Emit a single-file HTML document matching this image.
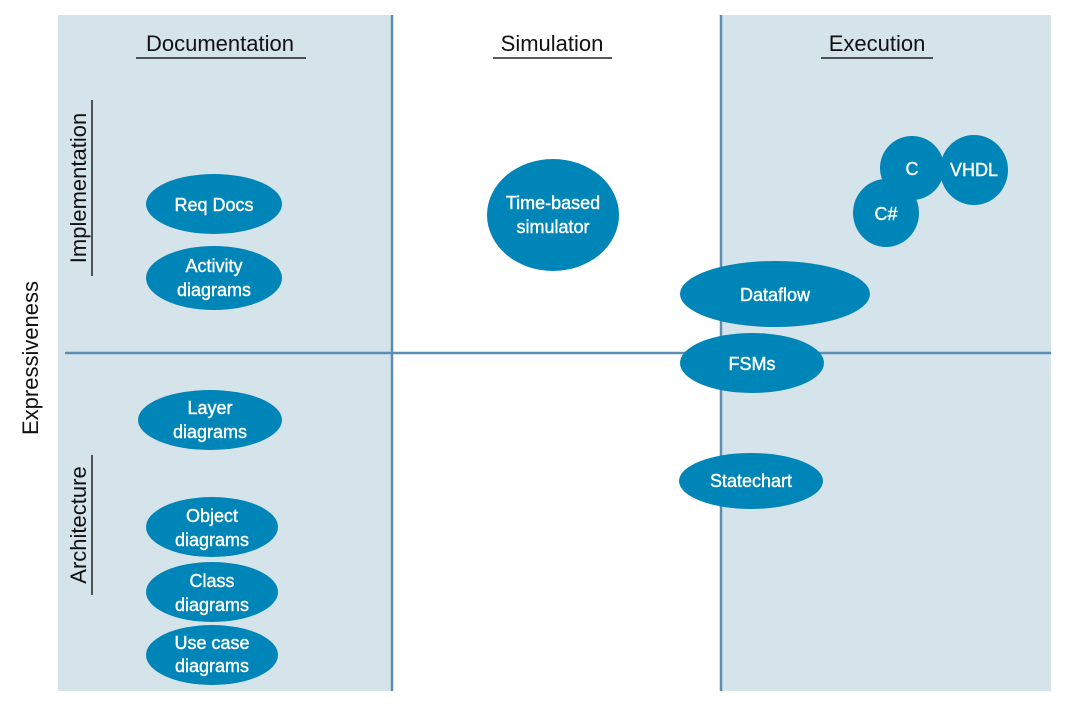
<!DOCTYPE html>
<html><head><style>body{margin:0;background:#fff}</style></head><body>
<svg width="1067" height="708" xmlns="http://www.w3.org/2000/svg" font-family="Liberation Sans, Arial, sans-serif">
<rect x="58" y="15" width="334" height="676" fill="#d5e3ea"/>
<rect x="721" y="15" width="330" height="676" fill="#d5e3ea"/>
<g stroke="#5b8eb2" stroke-width="2.5">
<line x1="392" y1="15" x2="392" y2="691"/>
<line x1="721" y1="15" x2="721" y2="691"/>
<line x1="65" y1="353" x2="1051" y2="353"/>
</g>
<g font-size="22" fill="#111" text-anchor="middle">
<text x="220" y="51">Documentation</text>
<text x="552" y="51">Simulation</text>
<text x="877" y="51">Execution</text>
</g>
<g stroke="#222" stroke-width="1.5">
<line x1="136" y1="58" x2="306" y2="58"/>
<line x1="493" y1="58" x2="612" y2="58"/>
<line x1="821" y1="58" x2="933" y2="58"/>
<line x1="92" y1="100" x2="92" y2="276"/>
<line x1="92" y1="455" x2="92" y2="595"/>
</g>
<g font-size="22" fill="#111" text-anchor="middle">
<text transform="translate(86,188) rotate(-90)">Implementation</text>
<text transform="translate(86,525) rotate(-90)">Architecture</text>
<text transform="translate(38,358) rotate(-90)">Expressiveness</text>
</g>
<g fill="#0085b8">
<ellipse cx="214" cy="204" rx="68" ry="30"/>
<ellipse cx="214" cy="278" rx="68" ry="32"/>
<ellipse cx="553" cy="215" rx="66" ry="56"/>
<ellipse cx="974" cy="170" rx="34" ry="35"/>
<ellipse cx="912" cy="168" rx="32" ry="32"/>
<ellipse cx="886" cy="213" rx="33" ry="34"/>
<ellipse cx="775" cy="294" rx="95" ry="33"/>
<ellipse cx="752" cy="363" rx="72" ry="30"/>
<ellipse cx="751" cy="481" rx="72" ry="28"/>
<ellipse cx="210" cy="420" rx="72" ry="30"/>
<ellipse cx="212" cy="527" rx="66" ry="30"/>
<ellipse cx="212" cy="592" rx="66" ry="30"/>
<ellipse cx="212" cy="655" rx="66" ry="30"/>
</g>
<g font-size="18" fill="#fff" stroke="#fff" stroke-width="0.4" text-anchor="middle">
<text x="214" y="211">Req Docs</text>
<text x="214" y="272">Activity</text><text x="214" y="296">diagrams</text>
<text x="553" y="209">Time-based</text><text x="553" y="233">simulator</text>
<text x="974" y="176">VHDL</text>
<text x="912" y="175">C</text>
<text x="886" y="220">C#</text>
<text x="775" y="301">Dataflow</text>
<text x="752" y="370">FSMs</text>
<text x="751" y="487">Statechart</text>
<text x="210" y="414">Layer</text><text x="210" y="438">diagrams</text>
<text x="212" y="522">Object</text><text x="212" y="546">diagrams</text>
<text x="212" y="587">Class</text><text x="212" y="611">diagrams</text>
<text x="212" y="649">Use case</text><text x="212" y="672">diagrams</text>
</g>
</svg>
</body></html>
